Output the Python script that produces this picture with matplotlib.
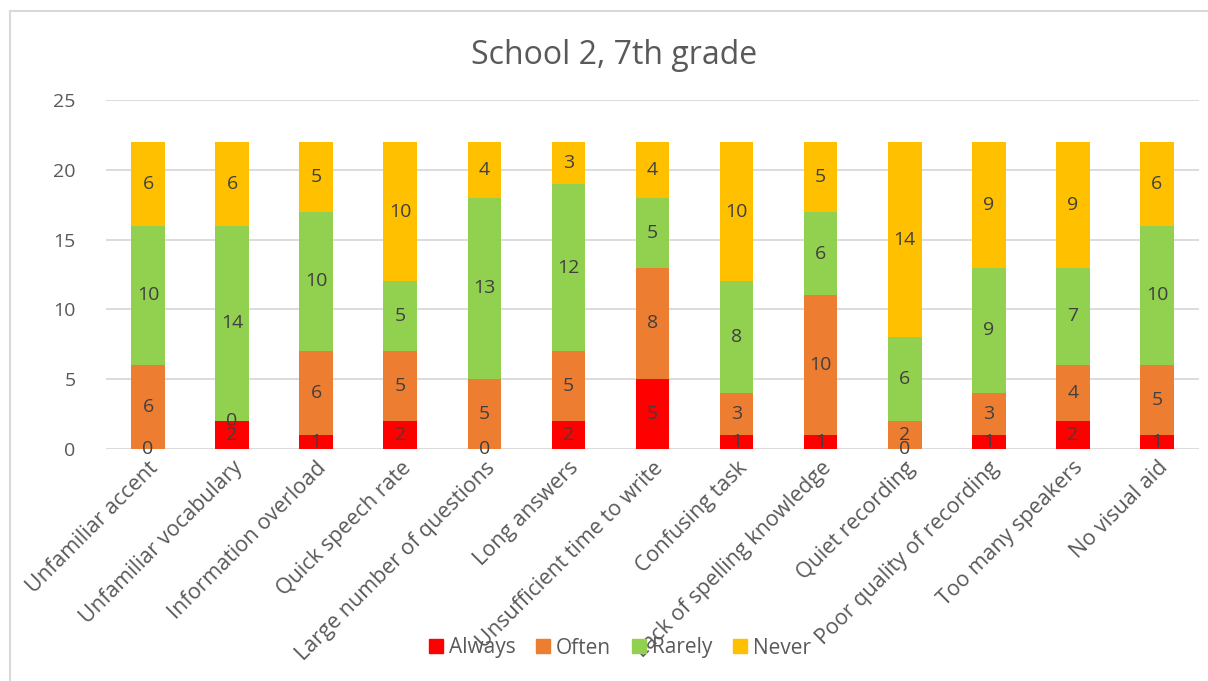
import matplotlib
matplotlib.use("Agg")
import matplotlib.pyplot as plt
from matplotlib.lines import Line2D
import numpy as np

plt.rcParams['font.family'] = ['Open Sans', 'DejaVu Sans']

# data
categories = ["Unfamiliar accent", "Unfamiliar vocabulary", "Information overload",
              "Quick speech rate", "Large number of questions", "Long answers",
              "Unsufficient time to write", "Confusing task", "Lack of spelling knowledge",
              "Quiet recording", "Poor quality of recording", "Too many speakers",
              "No visual aid"]
always = [0, 2, 1, 2, 0, 2, 5, 1, 1, 0, 1, 2, 1]
often = [6, 0, 6, 5, 5, 5, 8, 3, 10, 2, 3, 4, 5]
rarely = [10, 14, 10, 5, 13, 12, 5, 8, 6, 6, 9, 7, 10]
never = [6, 6, 5, 10, 4, 3, 4, 10, 5, 14, 9, 9, 6]

series = [("Always", always, "#FF0000"),
          ("Often", often, "#ED7D31"),
          ("Rarely", rarely, "#92D050"),
          ("Never", never, "#FFC000")]

TXT = "#595959"
LBL = "#404040"

fig = plt.figure(figsize=(12.08, 6.81), dpi=100)
ax = fig.add_axes([106 / 1208, 1 - 449 / 681, 1093 / 1208, 349 / 681])

x = np.arange(len(categories))
bottom = np.zeros(len(categories))
for name, vals, col in series:
    vals = np.array(vals)
    ax.bar(x, vals, 0.4, bottom=bottom, color=col, label=name, zorder=2)
    for xi, b, v in zip(x, bottom, vals):
        ax.text(xi, b + v / 2, str(v), ha="center", va="center",
                fontsize=14, color=LBL, zorder=3)
    bottom += vals

ax.set_xlim(-0.5, len(categories) - 0.5)
ax.set_ylim(0, 25)
ax.set_yticks(range(0, 26, 5))
ax.yaxis.grid(True, color="#D9D9D9", linewidth=1.3, zorder=0)
ax.set_axisbelow(True)
for s in ax.spines.values():
    s.set_visible(False)
ax.tick_params(length=0, labelsize=14, colors=TXT, pad=22)
ax.tick_params(axis="x", pad=6, labelsize=15.5)
ax.set_xticks(x)
ax.set_xticklabels(categories, rotation=45, ha="right", rotation_mode="anchor")

fig.text(614 / 1208, 1 - 56 / 681, "School 2, 7th grade", ha="center", va="center",
         fontsize=23, color=TXT)

handles = [plt.Rectangle((0, 0), 1, 1, color=c) for _, _, c in series]
fig.legend(handles, [n for n, _, _ in series], loc="center",
           bbox_to_anchor=(620 / 1208, 1 - 648 / 681), ncol=4, frameon=False,
           fontsize=15, labelcolor=TXT, handlelength=0.65, handleheight=0.65,
           handletextpad=0.3, columnspacing=1.0)

# chart area border (left and top edges visible)
fig.add_artist(Line2D([10 / 1208, 10 / 1208], [0, 1 - 11 / 681], transform=fig.transFigure,
                      color="#D9D9D9", linewidth=1.5))
fig.add_artist(Line2D([10 / 1208, 1], [1 - 11 / 681, 1 - 11 / 681], transform=fig.transFigure,
                      color="#D9D9D9", linewidth=1.5))

fig.savefig("out.png", dpi=100, facecolor="white")
